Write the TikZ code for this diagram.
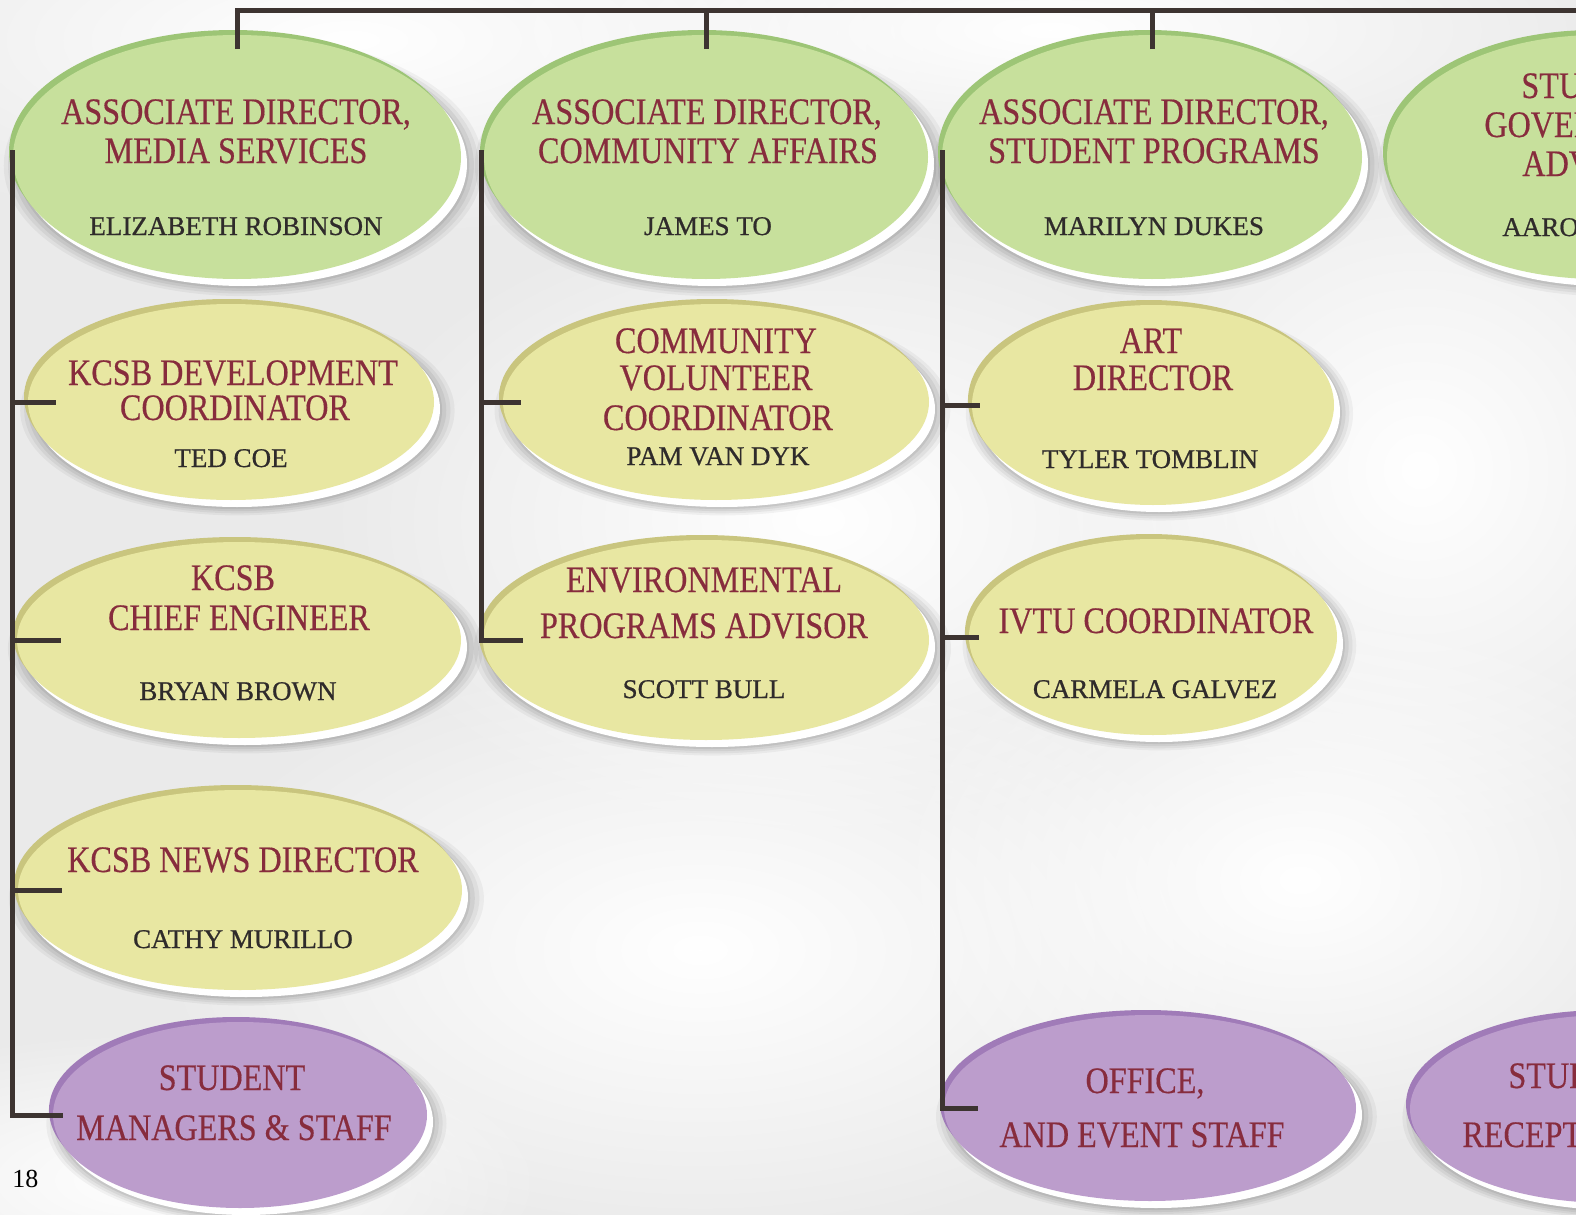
\documentclass[tikz,border=0pt]{standalone}
\usepackage{fontspec}
\setmainfont{Liberation Serif}
\newfontfamily\ttlfont[FakeStretch=0.86,FakeBold=0.4]{Liberation Serif}
\newfontfamily\nmfont[FakeBold=0.7]{Liberation Serif}
\usetikzlibrary{shapes.geometric,shadows,fadings}
\tikzfading[name=softspot, inner color=transparent!0, outer color=transparent!100]
\definecolor{bgcol}{HTML}{EAEAEA}
\definecolor{grfill}{HTML}{C7E09C}
\definecolor{grrim}{HTML}{9DC576}
\definecolor{yefill}{HTML}{E8E7A2}
\definecolor{yerim}{HTML}{C9C57E}
\definecolor{pufill}{HTML}{BC9DCC}
\definecolor{purim}{HTML}{A07BB8}
\definecolor{titlecol}{HTML}{872C3D}
\definecolor{namecol}{HTML}{2F2B2B}
\definecolor{conncol}{HTML}{3D3431}
\tikzset{
  oval/.style={ellipse, inner sep=0pt, outer sep=0pt,
    general shadow={fill=black, opacity=.045, shadow xshift=3pt, shadow yshift=-4pt, shadow scale=1.07},
    general shadow={fill=black, opacity=.05, shadow xshift=3pt, shadow yshift=-4pt, shadow scale=1.05},
    general shadow={fill=black, opacity=.06, shadow xshift=3pt, shadow yshift=-4pt, shadow scale=1.03},
    general shadow={fill=black, opacity=.07, shadow xshift=3pt, shadow yshift=-4pt, shadow scale=1.01},
    general shadow={fill=white, shadow xshift=3pt, shadow yshift=-3.5pt}},
  ovgreen/.style={oval, fill=grfill, general shadow={fill=grrim, shadow xshift=-2pt, shadow yshift=2.5pt}},
  ovyellow/.style={oval, fill=yefill, general shadow={fill=yerim, shadow xshift=-2pt, shadow yshift=2.5pt}},
  ovpurple/.style={oval, fill=pufill, general shadow={fill=purim, shadow xshift=-2pt, shadow yshift=2.5pt}},
  ttl/.style={font=\ttlfont\fontsize{18.7}{22}\selectfont, text=titlecol, anchor=base, inner sep=0pt},
  nm/.style={font=\nmfont\fontsize{13.5}{16}\selectfont, text=namecol, anchor=base, inner sep=0pt},
  conn/.style={draw=conncol, line width=2.5pt},
  spot/.style={fill=white, path fading=softspot},
}
\begin{document}
\begin{tikzpicture}[x=0.5pt,y=-0.5pt]
\useasboundingbox (0,0) rectangle (1576,1215);
\clip (0,0) rectangle (1576,1215);
% background
\fill[bgcol] (0,0) rectangle (1576,1215);
\fill[spot] (350,40) ellipse [x radius=600, y radius=200];
\fill[spot] (1050,30) ellipse [x radius=600, y radius=160];
\fill[spot] (820,520) ellipse [x radius=500, y radius=320];
\fill[spot] (1420,470) ellipse [x radius=380, y radius=380];
\fill[spot] (700,950) ellipse [x radius=550, y radius=300];
\fill[spot] (1300,880) ellipse [x radius=420, y radius=280];
\fill[spot] (150,1180) ellipse [x radius=400, y radius=150];

% green row
\node[ovgreen, minimum width=224pt, minimum height=122pt] (m1) at (237,157) {};
\node[ovgreen, minimum width=222pt, minimum height=122pt] (m2) at (706,157) {};
\node[ovgreen, minimum width=210pt, minimum height=122pt] (m3) at (1152,157) {};
\node[ovgreen, minimum width=211pt, minimum height=122pt] (m4) at (1598,157) {};
% yellow
\node[ovyellow, minimum width=203pt, minimum height=98pt] (d1) at (231,402) {};
\node[ovyellow, minimum width=213pt, minimum height=98pt] (cv) at (716,402) {};
\node[ovyellow, minimum width=181pt, minimum height=100pt] (art) at (1153,405) {};
\node[ovyellow, minimum width=222pt, minimum height=98pt] (ce) at (239,640) {};
\node[ovyellow, minimum width=223pt, minimum height=100pt] (env) at (706,640) {};
\node[ovyellow, minimum width=184pt, minimum height=98pt] (ivtu) at (1153,637) {};
\node[ovyellow, minimum width=222pt, minimum height=100pt] (nd) at (240,890) {};
% purple
\node[ovpurple, minimum width=187pt, minimum height=93pt] (p1) at (240,1115) {};
\node[ovpurple, minimum width=206pt, minimum height=93pt] (p2) at (1150,1108) {};
\node[ovpurple, minimum width=200pt, minimum height=94pt] (p3) at (1610,1109) {};

% texts
\node[ttl] (m1a) at (236,124) {ASSOCIATE DIRECTOR,};
\node[ttl] (m1b) at (236,163) {MEDIA SERVICES};
\node[nm]  (m1n) at (236,235) {ELIZABETH ROBINSON};
\node[ttl] (m2a) at (707,124) {ASSOCIATE DIRECTOR,};
\node[ttl] (m2b) at (708,163) {COMMUNITY AFFAIRS};
\node[nm]  (m2n) at (708,235) {JAMES TO};
\node[ttl] (m3a) at (1154,124) {ASSOCIATE DIRECTOR,};
\node[ttl] (m3b) at (1154,163) {STUDENT PROGRAMS};
\node[nm]  (m3n) at (1154,235) {MARILYN DUKES};
\node[ttl, anchor=base west] (m4a) at (1521,98) {STU};
\node[ttl, anchor=base west] (m4b) at (1484,137) {GOVER};
\node[ttl, anchor=base west] (m4c) at (1522,176) {ADV};
\node[nm, anchor=base west]  (m4n) at (1502,236) {AARO};

\node[ttl] (d1a) at (233,385) {KCSB DEVELOPMENT};
\node[ttl] (d1b) at (235,420) {COORDINATOR};
\node[nm]  (d1n) at (231,467) {TED COE};
\node[ttl] (cva) at (716,353) {COMMUNITY};
\node[ttl] (cvb) at (716,390) {VOLUNTEER};
\node[ttl] (cvc) at (718,430) {COORDINATOR};
\node[nm]  (cvn) at (718,465) {PAM VAN DYK};
\node[ttl] (arta) at (1151,353) {ART};
\node[ttl] (artb) at (1153,390) {DIRECTOR};
\node[nm]  (artn) at (1150,468) {TYLER TOMBLIN};

\node[ttl] (cea) at (233,590) {KCSB};
\node[ttl] (ceb) at (239,630) {CHIEF ENGINEER};
\node[nm]  (cen) at (238,700) {BRYAN BROWN};
\node[ttl] (enva) at (704,592) {ENVIRONMENTAL};
\node[ttl] (envb) at (704,638) {PROGRAMS ADVISOR};
\node[nm]  (envn) at (704,698) {SCOTT BULL};
\node[ttl] (ivtua) at (1156,633) {IVTU COORDINATOR};
\node[nm]  (ivtun) at (1155,698) {CARMELA GALVEZ};

\node[ttl] (nda) at (243,872) {KCSB NEWS DIRECTOR};
\node[nm]  (ndn) at (243,948) {CATHY MURILLO};

\node[ttl] (p1a) at (232,1090) {STUDENT};
\node[ttl] (p1b) at (234,1140) {MANAGERS \& STAFF};
\node[ttl] (p2a) at (1145,1093) {OFFICE,};
\node[ttl] (p2b) at (1142,1147) {AND EVENT STAFF};
\node[ttl, anchor=base west] (p3a) at (1508,1088) {STUD};
\node[ttl, anchor=base west] (p3b) at (1462,1147) {RECEPT};

\node[font=\fontsize{13}{15}\selectfont, anchor=base west, inner sep=0pt] (pg) at (12,1187) {18};

% connectors
\coordinate (tR) at (1580,10);
\draw[conn] ([yshift=-7pt]m1.north) |- (tR);
\draw[conn] ([yshift=-7pt]m2.north) -- (m2.north |- tR);
\draw[conn] ([yshift=-7pt]m3.north) -- (m3.north |- tR);

\coordinate (s1) at (12,150);
\draw[conn] (s1) |- ([xshift=5pt]p1.west);
\draw[conn] (s1 |- d1.west) -- ([xshift=14pt]d1.west);
\draw[conn] (s1 |- ce.west) -- ([xshift=22pt]ce.west);
\draw[conn] (s1 |- nd.west) -- ([xshift=22pt]nd.west);

\coordinate (s2) at (481,150);
\draw[conn] (s2) |- ([xshift=20pt]env.west);
\draw[conn] (s2 |- cv.west) -- ([xshift=9pt]cv.west);

\coordinate (s3) at (942,150);
\draw[conn] (s3) |- ([xshift=17pt]p2.west);
\draw[conn] (s3 |- art.west) -- ([xshift=4pt]art.west);
\draw[conn] (s3 |- ivtu.west) -- ([xshift=5pt]ivtu.west);
\end{tikzpicture}
\end{document}
